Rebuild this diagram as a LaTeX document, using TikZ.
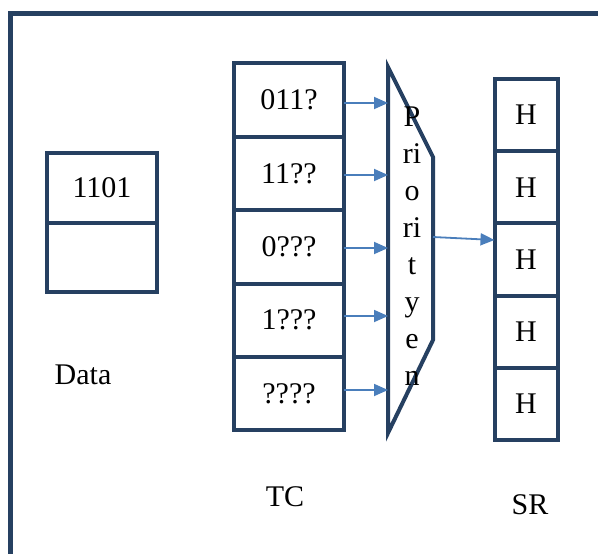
\documentclass[tikz,border=0pt]{standalone}
\usepackage{fontspec}
\setmainfont{Liberation Serif}
\usepackage{xcolor}
\usetikzlibrary{arrows.meta,positioning,calc}

\definecolor{navy}{RGB}{38,64,97}
\definecolor{arrowblue}{RGB}{74,126,187}

\begin{document}
\begin{tikzpicture}[x=1pt, y=-1pt,
    cell/.style={rectangle, draw=navy, line width=4pt, outer sep=0pt, inner sep=0pt, font=\fontsize{30}{34}\selectfont},
    tccell/.style={cell, minimum width=110pt, minimum height=73.4pt},
    srcell/.style={cell, minimum width=63pt, minimum height=72.2pt},
    arrow/.style={-{Triangle[length=14pt,width=12pt]}, arrowblue, line width=1.8pt},
    lbl/.style={font=\fontsize{30}{34}\selectfont},
    node distance=0pt
]
    \useasboundingbox (0,0) rectangle (598,554);

    % Frame
    \draw[navy, line width=5pt] (10.5,560) -- (10.5,13) -- (605,13);

    % Data register
    \node[cell, minimum width=110pt, minimum height=69.5pt] (d1) at (102,188) {1101};
    \node[cell, minimum width=110pt, minimum height=69.5pt, below=of d1] (d2) {};
    \node[lbl] (data) at (83,375) {Data};

    % TC column
    \node[tccell] (tc1) at (289,100) {011?};
    \node[tccell, below=of tc1] (tc2) {11??};
    \node[tccell, below=of tc2] (tc3) {0???};
    \node[tccell, below=of tc3] (tc4) {1???};
    \node[tccell, below=of tc4] (tc5) {????};
    \node[lbl] (tc) at (285,497) {TC};

    % Priority encoder
    \node[minimum width=45pt, minimum height=366pt, inner sep=0pt, outer sep=0pt] (prio) at (410.5,250) {};
    \draw[navy, line width=4pt, line join=miter]
        (prio.north west) -- ($(prio.north east)+(0,90)$) -- ($(prio.south east)+(0,-93)$)
        -- (prio.south west) -- cycle;
    \node[lbl, align=center, font=\fontsize{30}{37}\selectfont, inner sep=0pt] (ptext) at (412,246)
        {P\\ri\\o\\ri\\t\\y\\e\\n};

    % SR column
    \node[srcell] (sr1) at (526,115) {H};
    \node[srcell, below=of sr1] (sr2) {H};
    \node[srcell, below=of sr2] (sr3) {H};
    \node[srcell, below=of sr3] (sr4) {H};
    \node[srcell, below=of sr4] (sr5) {H};
    \node[lbl] (sr) at (530,505) {SR};

    % Arrows
    \foreach \i/\y in {1/103,2/175,3/248,4/316,5/390}
        \draw[arrow] (tc\i.east |- 0,\y) -- (prio.west |- 0,\y);
    \draw[arrow] ($(prio.east)+(0,-13)$) -- (sr3.west |- 0,240);
\end{tikzpicture}
\end{document}
